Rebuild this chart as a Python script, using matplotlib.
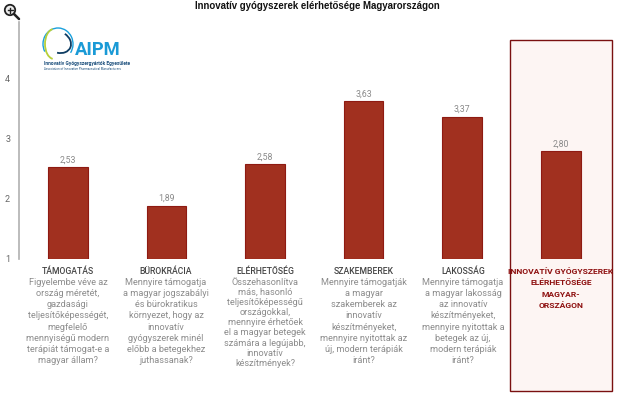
import matplotlib
matplotlib.use("Agg")
import numpy as np
import matplotlib.pyplot as plt
from matplotlib.patches import Rectangle, Circle, Arc

plt.rcParams['font.family'] = ['Roboto', 'DejaVu Sans']

# 数据
headers = ["TÁMOGATÁS", "BÜROKRÁCIA", "ELÉRHETŐSÉG", "SZAKEMBEREK", "LAKOSSÁG",
           "INNOVATÍV GYÓGYSZEREK\nELÉRHETŐSÉGE\nMAGYAR-\nORSZÁGON"]
values = [2.53, 1.89, 2.58, 3.63, 3.37, 2.80]
value_labels = ["2,53", "1,89", "2,58", "3,63", "3,37", "2,80"]
y_ticks = [1, 2, 3, 4]
descriptions = [
    "Figyelembe véve az\nország méretét,\ngazdasági\nteljesítőképességét,\nmegfelelő\nmennyiségű modern\nterápiát támogat-e a\nmagyar állam?",
    "Mennyire támogatja\na magyar jogszabályi\nés bürokratikus\nkörnyezet, hogy az\ninnovatív\ngyógyszerek minél\nelőbb a betegekhez\njuthassanak?",
    "Összehasonlítva\nmás, hasonló\nteljesítőképességű\nországokkal,\nmennyire érhetőek\nel a magyar betegek\nszámára a legújabb,\ninnovatív\nkészítmények?",
    "Mennyire támogatják\na magyar\nszakemberek az\ninnovatív\nkészítményeket,\nmennyire nyitottak az\núj, modern terápiák\niránt?",
    "Mennyire támogatja\na magyar lakosság\naz innovatív\nkészítményeket,\nmennyire nyitottak a\nbetegek az új,\nmodern terápiák\niránt?",
    "",
]
line_pitch = [11.2, 11.2, 10.1, 11.2, 11.2, 11.2]

W, H = 620, 400
fig = plt.figure(figsize=(W / 100, H / 100), dpi=100)

# 像素坐标的覆盖层（高亮框、文字、图标）
bg = fig.add_axes([0, 0, 1, 1], zorder=0)
bg.set_xlim(0, W)
bg.set_ylim(H, 0)
bg.axis('off')
bg.add_patch(Rectangle((510, 40), 102, 351, facecolor='#fdf5f3', edgecolor='#7a1010', linewidth=1.0))

# 柱状图主体
ax = fig.add_axes([18.5 / W, 1 - 259 / H, 591.6 / W, 237 / H], zorder=1)
ax.patch.set_alpha(0)
x = np.arange(len(values))
ax.bar(x, np.array(values) - 1, bottom=1, width=0.4, color='#a1301f', edgecolor='#8e1a12', linewidth=0.8)
ax.set_xlim(-0.5, 5.5)
ax.set_ylim(1, 1 + 237 / 60)
ax.set_yticks(y_ticks)
ax.set_yticklabels([str(t) for t in y_ticks], fontsize=6.5, color='#666666')
ax.set_xticks([])
ax.tick_params(axis='y', length=0, pad=6)
for s in ['top', 'right', 'bottom']:
    ax.spines[s].set_visible(False)
ax.spines['left'].set_color('#b0b0b0')
ax.spines['left'].set_linewidth(1.2)
for xi, v, lab in zip(x, values, value_labels):
    ax.annotate(lab, (xi, v), xytext=(0, 2), textcoords='offset points', ha='center', va='bottom',
                fontsize=6.3, color='#8a8a8a')

# 顶层文字
top = fig.add_axes([0, 0, 1, 1], zorder=2)
top.set_xlim(0, W)
top.set_ylim(H, 0)
top.axis('off')
top.patch.set_alpha(0)

top.text(317, 6, "Innovatív gyógyszerek elérhetősége Magyarországon", ha='center', va='center',
         fontsize=6.9, fontweight='bold', family=['Liberation Sans', 'DejaVu Sans'], color='#111111')

centers = [68, 166, 265, 364, 463, 561]
for i, cx in enumerate(centers):
    if i < 5:
        top.text(cx, 271.7, headers[i], ha='center', va='center', fontsize=6.2, fontweight='medium', color='#444444')
    else:
        for j, line in enumerate(headers[i].split("\n")):
            top.text(cx, 271.7 + 11.2 * j, line, ha='center', va='center', fontsize=6.1, fontweight='bold', color='#8e1010')
    if descriptions[i]:
        for j, line in enumerate(descriptions[i].split("\n")):
            top.text(cx, 282.4 + line_pitch[i] * j, line, ha='center', va='center', fontsize=6.6, color='#8c8c8c')

# AIPM 标志
top.add_patch(Arc((58, 44), 30, 32, angle=0, theta1=150, theta2=395, color='#1aa0dc', linewidth=1.0))
top.add_patch(Arc((54, 44), 18, 30, angle=0, theta1=95, theta2=265, color='#b7cf3a', linewidth=1.3))
top.add_patch(Arc((58, 42), 27, 21, angle=25, theta1=-75, theta2=70, color='#0f3d63', linewidth=1.3))
top.text(75, 50, "AIPM", fontsize=13.2, fontweight='bold', color='#1a9ad6', ha='left', va='center')
top.text(44, 63, "Innovatív Gyógyszergyártók Egyesülete", fontsize=3.5, fontweight='bold', color='#1c4f7c', ha='left', va='center')
top.text(44, 69, "Association of Innovative Pharmaceutical Manufacturers", fontsize=2.2, color='#1c4f7c', ha='left', va='center')

# 放大镜图标
top.add_patch(Circle((10, 10), 5.2, facecolor='#eeeeee', edgecolor='#222222', linewidth=1.3))
top.plot([13.8, 19], [13.8, 19], color='#222222', linewidth=1.8, solid_capstyle='round')
top.plot([7.5, 12.5], [10, 10], color='#222222', linewidth=1)
top.plot([10, 10], [7.5, 12.5], color='#222222', linewidth=1)
top.set_xlim(0, W)
top.set_ylim(H, 0)

fig.savefig("out.png", dpi=100)
